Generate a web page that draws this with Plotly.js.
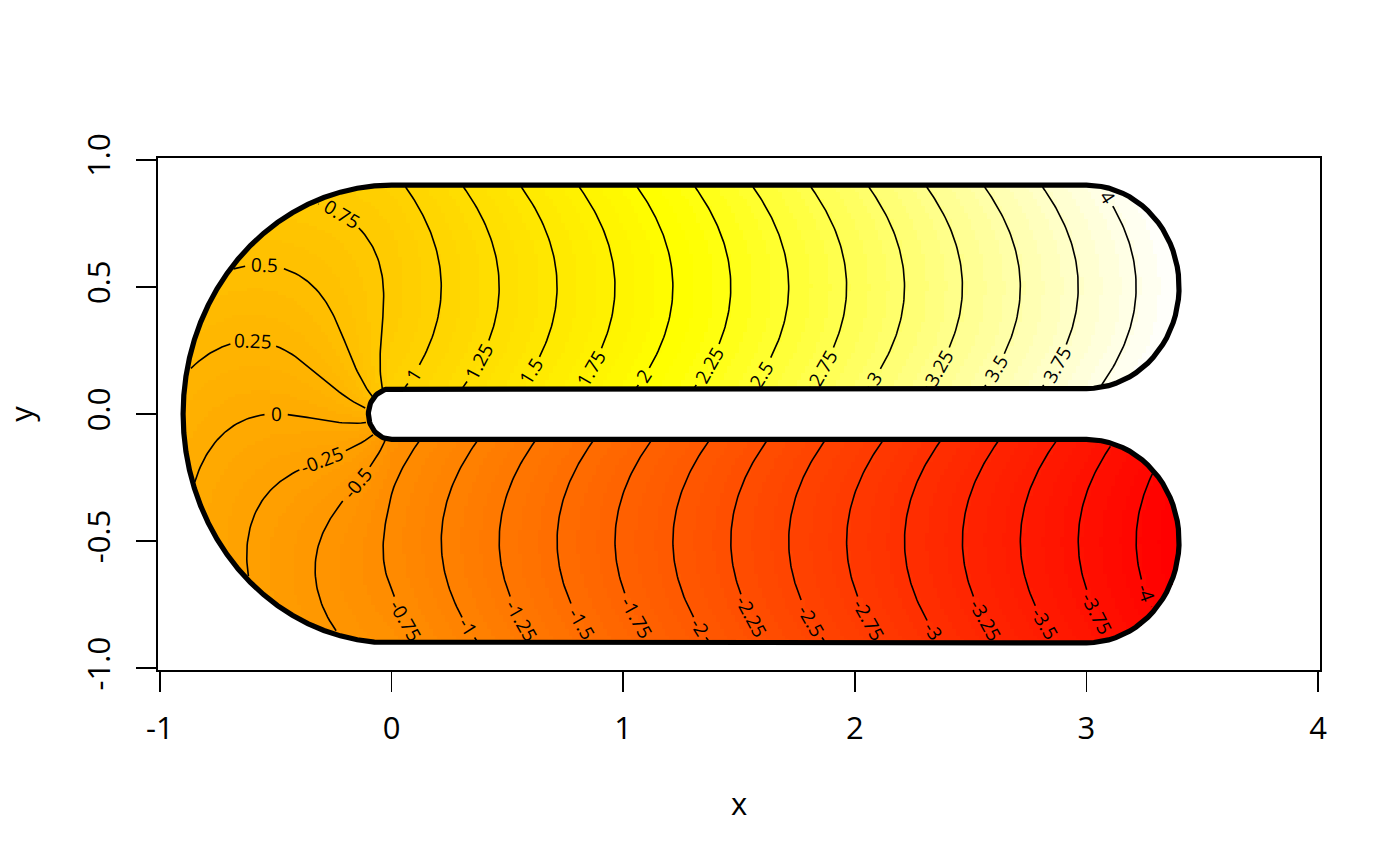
<!DOCTYPE html>
<html>
<head>
<meta charset="utf-8">
<script src="https://cdn.plot.ly/plotly-3.0.1.min.js"></script>
<style>html,body{margin:0;padding:0;background:#fff}</style>
</head>
<body>
<div id="chart" style="width:1400px;height:866px"></div>
<script>
// ---- test function parameters (mgcv fs.test / fs.boundary) ----
const R0 = 0.1, RAD = 0.5, LEN = 3, BCOEF = 1, N_THETA = 20;
// ---- grid, as in image(xm, yn, tru) ----
const NX = 300, NY = 150;
const X_FROM = -1, X_TO = 4, Y_FROM = -1, Y_TO = 1;
// ---- contour levels (seq(-5,5,by=.25) within range) ----
const contourLevels = [-4,-3.75,-3.5,-3.25,-3,-2.75,-2.5,-2.25,-2,-1.75,-1.5,-1.25,-1,-0.75,-0.5,-0.25,
  0,0.25,0.5,0.75,1,1.25,1.5,1.75,2,2.25,2.5,2.75,3,3.25,3.5,3.75,4];
// ---- axis ticks ----
const xTickVals = [-1,0,1,2,3,4];
const xTickText = ['-1','0','1','2','3','4'];
const yTickVals = [-1,-0.5,0,0.5,1];
const yTickText = ['-1.0','-0.5','0.0','0.5','1.0'];

// approximate label spots (snapped onto the computed lines)
const labelPlacement = {
  x: [3.26,3.05,2.82,2.57,2.33,2.07,1.81,1.56,1.32,1.07,0.83,0.57,0.34,0.07,-0.15,-0.30,
      -0.49,-0.60,-0.55,-0.23,0.10,0.37,0.60,0.86,1.08,1.37,1.60,1.86,2.08,2.36,2.60,2.86,3.09],
  y: [-0.70,-0.78,-0.82,-0.80,-0.85,-0.80,-0.82,-0.80,-0.84,-0.80,-0.82,-0.81,-0.84,-0.80,-0.27,-0.18,
      0.00,0.27,0.58,0.77,0.16,0.21,0.17,0.19,0.15,0.19,0.16,0.19,0.15,0.19,0.18,0.20,0.85]
};

function seq(a, b, n) { const o = []; for (let k = 0; k < n; k++) o.push(n === 1 ? a : a + (b - a) * k / (n - 1)); return o; }

function fsTest(x, y) {
  const q = Math.PI * RAD / 2;
  let a, d;
  if (x >= 0 && y > 0) { a = q + x; d = y - RAD; }
  else if (x >= 0 && y <= 0) { a = -q - x; d = -RAD - y; }
  else { a = -Math.atan(y / x) * RAD; d = Math.sqrt(x * x + y * y) - RAD; }
  const excl = Math.abs(d) > RAD - R0 || (x > LEN && (x - LEN) ** 2 + d * d > (RAD - R0) ** 2);
  return excl ? null : a * BCOEF + d * d;
}

function fsBoundary() {
  const rr = RAD + (RAD - R0);
  let bx = [], by = [];
  seq(Math.PI, Math.PI / 2, N_THETA).forEach(t => { bx.push(rr * Math.cos(t)); by.push(rr * Math.sin(t)); });
  seq(Math.PI / 2, -Math.PI / 2, 2 * N_THETA).forEach(t => { bx.push((RAD - R0) * Math.cos(t) + LEN); by.push((RAD - R0) * Math.sin(t) + RAD); });
  seq(Math.PI / 2, Math.PI, N_THETA).forEach(t => { bx.push(R0 * Math.cos(t)); by.push(R0 * Math.sin(t)); });
  const n = bx.length;
  for (let k = n - 1; k >= 0; k--) { bx.push(bx[k]); by.push(-by[k]); }
  return { x: bx, y: by };
}

const xm = seq(X_FROM, X_TO, NX);
const yn = seq(Y_FROM, Y_TO, NY);
const tru = yn.map(y => xm.map(x => fsTest(x, y)));

let zmin = Infinity, zmax = -Infinity;
tru.forEach(r => r.forEach(v => { if (v !== null) { if (v < zmin) zmin = v; if (v > zmax) zmax = v; } }));

// heat.colors(100) as a stepped colour scale
function hex2(v) { const s = Math.round(255 * v).toString(16).toUpperCase(); return s.length < 2 ? '0' + s : s; }
function heatColors(n) {
  const j = Math.floor(n / 4), i = n - j, out = [];
  for (let k = 0; k < i; k++) { const h = (i > 1 ? k / (i - 1) : 0) * (1 / 6); out.push('#FF' + hex2(h * 6) + '00'); }
  for (let k = 0; k < j; k++) { const s0 = 1 - 1 / (2 * j), s1 = 1 / (2 * j); const s = j > 1 ? s0 + (s1 - s0) * k / (j - 1) : s0; out.push('#FFFF' + hex2(1 - s)); }
  return out;
}
const pal = heatColors(100);
const colorscale = [];
pal.forEach((c, k) => { colorscale.push([k / pal.length, c]); colorscale.push([(k + 1) / pal.length, c]); });

// ---- geometry of plot area (for pixel-space label work) ----
const M = { l: 158, r: 80, t: 158, b: 196 };
const W = 1400 - M.l - M.r, H = 866 - M.t - M.b;
const dx = xm[1] - xm[0], dy = yn[1] - yn[0];
const xr = [xm[0] - dx / 2, xm[NX - 1] + dx / 2];
const yr = [yn[0] - dy / 2, yn[NY - 1] + dy / 2];
const toPx = (x, y) => [(x - xr[0]) / (xr[1] - xr[0]) * W, (yr[1] - y) / (yr[1] - yr[0]) * H];

// ---- marching squares ----
function contourLines(z, xs, ys, lev) {
  const nx = xs.length, ny = ys.length;
  const pts = new Map(), adj = new Map();
  const above = v => v > lev;
  function pH(i, j) {
    const key = j * nx + i;
    if (!pts.has(key)) { const a = z[j][i], b = z[j][i + 1]; const t = (lev - a) / (b - a); pts.set(key, [xs[i] + t * (xs[i + 1] - xs[i]), ys[j]]); }
    return key;
  }
  function pV(i, j) {
    const key = nx * ny + j * nx + i;
    if (!pts.has(key)) { const a = z[j][i], b = z[j + 1][i]; const t = (lev - a) / (b - a); pts.set(key, [xs[i], ys[j] + t * (ys[j + 1] - ys[j])]); }
    return key;
  }
  function link(k1, k2) {
    if (!adj.has(k1)) adj.set(k1, []); if (!adj.has(k2)) adj.set(k2, []);
    adj.get(k1).push(k2); adj.get(k2).push(k1);
  }
  for (let j = 0; j < ny - 1; j++) {
    for (let i = 0; i < nx - 1; i++) {
      const a = z[j][i], b = z[j][i + 1], c = z[j + 1][i + 1], d = z[j + 1][i];
      if (a === null || b === null || c === null || d === null) continue;
      const A = above(a), B = above(b), C = above(c), D = above(d);
      const e = [];
      const e0 = A !== B, e1 = B !== C, e2 = C !== D, e3 = D !== A;
      const cnt = e0 + e1 + e2 + e3;
      if (cnt === 0) continue;
      if (cnt === 2) {
        if (e0) e.push(pH(i, j)); if (e1) e.push(pV(i + 1, j)); if (e2) e.push(pH(i, j + 1)); if (e3) e.push(pV(i, j));
        link(e[0], e[1]);
      } else {
        const m = above((a + b + c + d) / 4);
        const k0 = pH(i, j), k1 = pV(i + 1, j), k2 = pH(i, j + 1), k3 = pV(i, j);
        if (m === A) { link(k0, k1); link(k2, k3); } else { link(k0, k3); link(k1, k2); }
      }
    }
  }
  const visited = new Set(), lines = [];
  function walk(start) {
    const line = []; let prev = null, cur = start;
    while (true) {
      visited.add(cur); line.push(pts.get(cur));
      const nb = adj.get(cur).filter(k => !visited.has(k));
      if (nb.length === 0) {
        if (adj.get(cur).includes(start) && prev !== start && line.length > 2) line.push(pts.get(start));
        break;
      }
      prev = cur; cur = nb[0];
    }
    return line;
  }
  adj.forEach((v, k) => { if (!visited.has(k) && v.length === 1) lines.push(walk(k)); });
  adj.forEach((v, k) => { if (!visited.has(k)) lines.push(walk(k)); });
  return lines;
}

// ---- label sizes (Open Sans advance widths) ----
const LABEL_FONT = 19;
function textWidth(s) { let w = 0; for (const ch of s) w += ch === '.' ? 0.266 : ch === '-' ? 0.322 : 0.572; return w * LABEL_FONT; }

const lineX = [], lineY = [], annotations = [];
contourLevels.forEach((lev, li) => {
  const lines = contourLines(tru, xm, yn, lev);
  const txt = String(lev);
  const hp = toPx(labelPlacement.x[li], labelPlacement.y[li]);
  let best = null, bd = Infinity;
  lines.forEach((ln, a) => ln.forEach((p, b) => { const q = toPx(p[0], p[1]); const dd = (q[0] - hp[0]) ** 2 + (q[1] - hp[1]) ** 2; if (dd < bd) { bd = dd; best = [a, b]; } }));
  let box = null;
  if (best) {
    const ln = lines[best[0]], b = best[1];
    const p0 = toPx(...ln[Math.max(0, b - 2)]), p1 = toPx(...ln[Math.min(ln.length - 1, b + 2)]);
    let ang = Math.atan2(p1[1] - p0[1], p1[0] - p0[0]) * 180 / Math.PI;
    if (ang > 90) ang -= 180; if (ang < -90) ang += 180;
    const c = toPx(...ln[b]);
    box = { cx: c[0], cy: c[1], ca: Math.cos(ang * Math.PI / 180), sa: Math.sin(ang * Math.PI / 180), hw: textWidth(txt) / 2 + 3, hh: 9 };
    annotations.push({ x: ln[b][0], y: ln[b][1], xref: 'x', yref: 'y', text: txt, textangle: ang, showarrow: false,
      font: { family: 'Open Sans', size: LABEL_FONT, color: 'black' }, xanchor: 'center', yanchor: 'middle', borderpad: 0 });
  }
  const inBox = p => {
    if (!box) return false;
    const q = toPx(p[0], p[1]); const ux = q[0] - box.cx, uy = q[1] - box.cy;
    const u = ux * box.ca + uy * box.sa, v = -ux * box.sa + uy * box.ca;
    return Math.abs(u) < box.hw && Math.abs(v) < box.hh;
  };
  lines.forEach(ln => {
    let open = false;
    ln.forEach(p => {
      if (inBox(p)) { if (open) { lineX.push(null); lineY.push(null); open = false; } return; }
      lineX.push(p[0]); lineY.push(p[1]); open = true;
    });
    if (open) { lineX.push(null); lineY.push(null); }
  });
});

const bnd = fsBoundary();

const traces = [
  { type: 'heatmap', x: xm, y: yn, z: tru, zmin: zmin, zmax: zmax, colorscale: colorscale, showscale: false, zsmooth: false, hoverinfo: 'skip' },
  { type: 'scatter', mode: 'lines', x: lineX, y: lineY, line: { color: 'black', width: 1.6 }, hoverinfo: 'skip', connectgaps: false },
  { type: 'scatter', mode: 'lines', x: bnd.x, y: bnd.y, line: { color: 'black', width: 5.2 }, hoverinfo: 'skip' }
];

const tickFont = { family: 'Open Sans', size: 31, color: 'black' };
const layout = {
  width: 1400, height: 866,
  margin: { l: M.l, r: M.r, t: M.t, b: M.b, pad: 0 },
  paper_bgcolor: 'white', plot_bgcolor: 'white', showlegend: false,
  xaxis: { range: xr, tickmode: 'array', tickvals: xTickVals, ticktext: xTickText, ticks: 'outside', ticklen: 20, tickwidth: 1.6,
    tickcolor: 'black', showline: true, mirror: true, linecolor: 'black', linewidth: 1.6, showgrid: false, zeroline: false,
    tickfont: tickFont, ticklabelstandoff: 10, automargin: false,
    title: { text: 'x', font: tickFont, standoff: 46 } },
  yaxis: { range: yr, tickmode: 'array', tickvals: yTickVals, ticktext: yTickText, ticks: 'outside', ticklen: 20, tickwidth: 1.6,
    tickcolor: 'black', showline: true, mirror: true, linecolor: 'black', linewidth: 1.6, showgrid: false, zeroline: false,
    tickfont: tickFont, tickangle: -90, ticklabelstandoff: 14, automargin: false,
    title: { text: 'y', font: tickFont, standoff: 40 } },
  annotations: annotations
};

Plotly.newPlot('chart', traces, layout, { displayModeBar: false, staticPlot: true });
</script>
</body>
</html>
